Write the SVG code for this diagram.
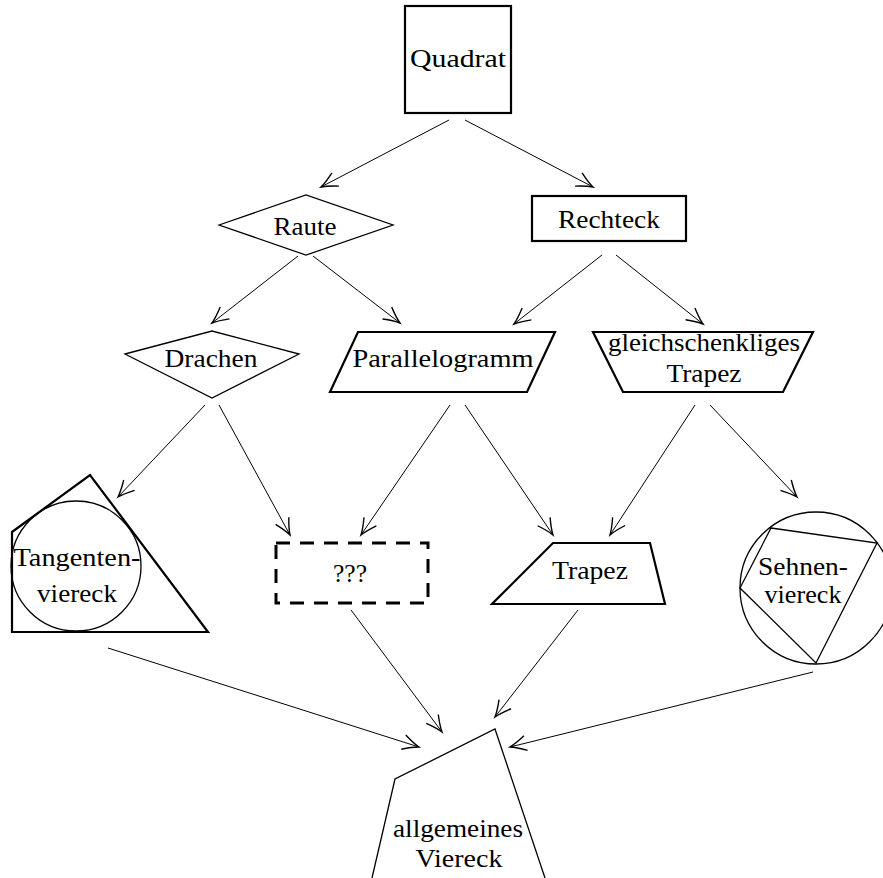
<svg xmlns="http://www.w3.org/2000/svg" width="883" height="878" viewBox="0 0 883 878">
<style>
text{font-family:"Liberation Serif","Times New Roman",serif;font-size:25px;fill:#000;text-anchor:middle}
.thick{fill:none;stroke:#000;stroke-width:2.2}
.thin{fill:none;stroke:#000;stroke-width:1.3}
.edge{fill:none;stroke:#000;stroke-width:1;marker-end:url(#arr)}
</style>
<defs>
<marker id="arr" markerUnits="userSpaceOnUse" markerWidth="20" markerHeight="20" refX="0" refY="0" orient="auto" overflow="visible" viewBox="-14 -8 16 16">
<path d="M-13,-6 Q-5,-1.5 0,0 Q-5,1.5 -13,6" fill="none" stroke="#000" stroke-width="1.1"/>
</marker>
</defs>
<rect width="883" height="878" fill="#fff"/>
<g id="edges">
<line class="edge" x1="449" y1="120" x2="321" y2="187"/>
<line class="edge" x1="465" y1="120" x2="593" y2="187"/>
<line class="edge" x1="298" y1="256" x2="212" y2="323"/>
<line class="edge" x1="313" y1="256" x2="400" y2="323"/>
<line class="edge" x1="602" y1="255" x2="514" y2="324"/>
<line class="edge" x1="616" y1="255" x2="703" y2="324"/>
<line class="edge" x1="205" y1="405" x2="118" y2="497"/>
<line class="edge" x1="219" y1="405" x2="290" y2="535"/>
<line class="edge" x1="450" y1="405" x2="361" y2="535"/>
<line class="edge" x1="465" y1="405" x2="553" y2="535"/>
<line class="edge" x1="695" y1="405" x2="610" y2="535"/>
<line class="edge" x1="710" y1="405" x2="797" y2="497"/>
<line class="edge" x1="108" y1="648" x2="419" y2="747"/>
<line class="edge" x1="351" y1="610" x2="442" y2="732"/>
<line class="edge" x1="578" y1="610" x2="495" y2="717"/>
<line class="edge" x1="813" y1="672" x2="510" y2="747"/>
</g>
<g id="quadrat">
<rect class="thick" x="405" y="6" width="106" height="107"/>
<text x="458" y="67" textLength="96" lengthAdjust="spacingAndGlyphs">Quadrat</text>
</g>
<g id="raute">
<polygon class="thin" points="219,225 306,195 393,225 306,255"/>
<text x="305" y="235" textLength="63" lengthAdjust="spacingAndGlyphs">Raute</text>
</g>
<g id="rechteck">
<rect class="thick" x="532" y="196" width="154" height="45"/>
<text x="609" y="228" textLength="102" lengthAdjust="spacingAndGlyphs">Rechteck</text>
</g>
<g id="drachen">
<polygon class="thin" points="125,354 212,331 299,354 212,398"/>
<text x="211" y="367" textLength="93" lengthAdjust="spacingAndGlyphs">Drachen</text>
</g>
<g id="parallelogramm">
<polygon class="thick" points="358,332 555,332 527,392 330,392"/>
<text x="443" y="367" textLength="181" lengthAdjust="spacingAndGlyphs">Parallelogramm</text>
</g>
<g id="gleichschenkliges-trapez">
<polygon class="thick" points="593,332 813,332 783,392 623,392"/>
<text x="704" y="351" textLength="192" lengthAdjust="spacingAndGlyphs">gleichschenkliges</text>
<text x="704" y="382" textLength="75" lengthAdjust="spacingAndGlyphs">Trapez</text>
</g>
<g id="tangentenviereck">
<polygon class="thick" points="12,532 90,475 208,632 12,632"/>
<circle class="thin" cx="76" cy="566" r="65"/>
<text x="77" y="566" textLength="127" lengthAdjust="spacingAndGlyphs">Tangenten-</text>
<text x="77" y="602" textLength="80" lengthAdjust="spacingAndGlyphs">viereck</text>
</g>
<g id="unbekannt">
<rect x="276" y="543" width="152" height="60" fill="none" stroke="#000" stroke-width="3" stroke-dasharray="14 10"/>
<text x="350" y="582" textLength="34" lengthAdjust="spacingAndGlyphs">???</text>
</g>
<g id="trapez">
<polygon class="thick" points="553,543 650,543 665,604 492,604"/>
<text x="590" y="579" textLength="76" lengthAdjust="spacingAndGlyphs">Trapez</text>
</g>
<g id="sehnenviereck">
<circle class="thin" cx="816" cy="588" r="76"/>
<polygon class="thin" points="771,528 877,543 816,663 740,588"/>
<text x="803" y="575" textLength="90" lengthAdjust="spacingAndGlyphs">Sehnen-</text>
<text x="803" y="603" textLength="77" lengthAdjust="spacingAndGlyphs">viereck</text>
</g>
<g id="allgemeines-viereck">
<polyline class="thin" points="372,878 395,779 495,729 545,878"/>
<text x="458" y="837" textLength="130" lengthAdjust="spacingAndGlyphs">allgemeines</text>
<text x="459" y="867" textLength="87" lengthAdjust="spacingAndGlyphs">Viereck</text>
</g>
</svg>
